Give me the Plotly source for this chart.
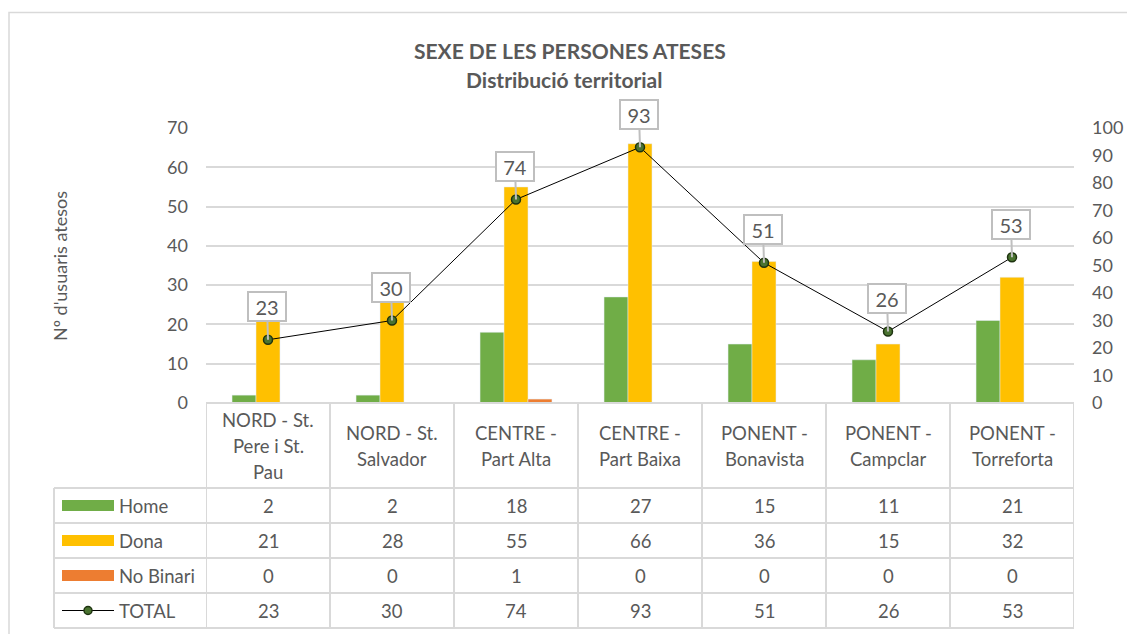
import plotly.graph_objects as go

# ---------------- data ----------------
categories = ["NORD - St. Pere i St. Pau", "NORD - St. Salvador", "CENTRE - Part Alta",
              "CENTRE - Part Baixa", "PONENT - Bonavista", "PONENT - Campclar",
              "PONENT - Torreforta"]
header_lines = [["NORD - St.", "Pere i St.", "Pau"], ["NORD - St.", "Salvador"],
                ["CENTRE -", "Part Alta"], ["CENTRE -", "Part Baixa"],
                ["PONENT -", "Bonavista"], ["PONENT -", "Campclar"],
                ["PONENT -", "Torreforta"]]
home = [2, 2, 18, 27, 15, 11, 21]
dona = [21, 28, 55, 66, 36, 15, 32]
no_binari = [0, 0, 1, 0, 0, 0, 0]
total = [23, 30, 74, 93, 51, 26, 53]
series_names = ["Home", "Dona", "No Binari", "TOTAL"]
title_line1 = "SEXE DE LES PERSONES ATESES"
title_line2 = "Distribució territorial"
y_title = "Nº d'usuaris atesos"

# ---------------- style ----------------
FONT = "Lato"
TXT = "#595959"
GRID = "#d9d9d9"
C_HOME, C_DONA, C_NB = "#70AD47", "#FFC000", "#ED7D31"
W, H = 1135, 634
OFF = 8  # page body offset
L, R, T, B = 206, 1074, 128, 403  # plot area in screenshot px
PW, PH = R - L, B - T
TS = 18.5  # table text size


def px_x(p):
    return (p - L) / PW


def px_y(p):
    return (B - p) / PH


fig = go.Figure()
fig.add_bar(x=categories, y=home, name=series_names[0], marker_color=C_HOME)
fig.add_bar(x=categories, y=dona, name=series_names[1], marker_color=C_DONA)
fig.add_bar(x=categories, y=no_binari, name=series_names[2], marker_color=C_NB)
fig.add_scatter(x=categories, y=total, name=series_names[3], yaxis="y2",
                mode="lines+markers",
                line=dict(color="#000000", width=1),
                marker=dict(size=9, color="#4A7330", line=dict(color="#1E3310", width=1.5)))

annotations = []
shapes = []

# callout data labels for TOTAL
for c, v in zip(categories, total):
    annotations.append(dict(x=c, y=v, xref="x", yref="y2", text=str(v),
                            showarrow=True, arrowhead=0, arrowwidth=2, arrowcolor="#bfbfbf",
                            ax=-1, ay=-33, bgcolor="white", bordercolor="#bfbfbf",
                            borderwidth=2, borderpad=1, width=34, height=25,
                            font=dict(family=FONT, size=20, color=TXT)))

# ---- data table ----
row_tops = [488, 523, 558, 593, 628]
header_center = 445.5
line_gap = 26
for i, lines in enumerate(header_lines):
    n = len(lines)
    for k, ln in enumerate(lines):
        yy = header_center + (k - (n - 1) / 2) * line_gap
        annotations.append(dict(x=i, y=px_y(yy), xref="x", yref="paper", text=ln,
                                showarrow=False, xanchor="center", yanchor="middle",
                                font=dict(family=FONT, size=TS, color=TXT)))

rows = [home, dona, no_binari, total]
for r_i, vals in enumerate(rows):
    yc = (row_tops[r_i] + row_tops[r_i + 1]) / 2
    for i, v in enumerate(vals):
        annotations.append(dict(x=i, y=px_y(yc), xref="x", yref="paper", text=str(v),
                                showarrow=False, xanchor="center", yanchor="middle",
                                font=dict(family=FONT, size=TS, color=TXT)))
    annotations.append(dict(x=px_x(117), y=px_y(yc), xref="paper", yref="paper",
                            text=series_names[r_i], showarrow=False, xanchor="left",
                            yanchor="middle", font=dict(family=FONT, size=TS, color=TXT)))

# legend keys
key_cols = [C_HOME, C_DONA, C_NB]
for r_i, col in enumerate(key_cols):
    yc = (row_tops[r_i] + row_tops[r_i + 1]) / 2
    shapes.append(dict(type="rect", xref="paper", yref="paper", x0=px_x(62), x1=px_x(114),
                       y0=px_y(yc - 5.5), y1=px_y(yc + 5.5), fillcolor=col, line=dict(width=0)))
yc = (row_tops[3] + row_tops[4]) / 2
shapes.append(dict(type="line", xref="paper", yref="paper", x0=px_x(62), x1=px_x(114),
                   y0=px_y(yc), y1=px_y(yc), line=dict(color="#000000", width=1)))
shapes.append(dict(type="circle", xref="paper", yref="paper", x0=px_x(84), x1=px_x(92),
                   y0=px_y(yc - 4), y1=px_y(yc + 4), fillcolor="#4A7330",
                   line=dict(color="#1E3310", width=1.5)))

bl = dict(color=GRID, width=2)
shapes.append(dict(type="line", xref="x", yref="paper", x0=-0.5, x1=6.5, y0=0, y1=0,
                   line=bl, layer="above"))
for yt in row_tops:
    shapes.append(dict(type="line", xref="paper", yref="paper", x0=px_x(54), x1=1,
                       y0=px_y(yt), y1=px_y(yt), line=bl))
for k in range(len(categories) + 1):
    shapes.append(dict(type="line", xref="x", yref="paper", x0=k - 0.5, x1=k - 0.5,
                       y0=0, y1=px_y(row_tops[-1]), line=bl))
shapes.append(dict(type="line", xref="paper", yref="paper", x0=px_x(54), x1=px_x(54),
                   y0=px_y(row_tops[0]), y1=px_y(row_tops[-1]), line=bl))

# outer chart border
shapes.append(dict(type="rect", xref="paper", yref="paper", x0=px_x(9), x1=px_x(1160),
                   y0=px_y(660), y1=px_y(12.5), line=dict(color=GRID, width=1.5)))

# titles
annotations.append(dict(x=px_x(570), y=px_y(51), xref="paper", yref="paper",
                        text=f"<b>{title_line1}</b>", showarrow=False, xanchor="center",
                        yanchor="middle", font=dict(family=FONT, size=21, color=TXT)))
annotations.append(dict(x=px_x(564), y=px_y(79), xref="paper", yref="paper",
                        text=f"<b>{title_line2}</b>", showarrow=False, xanchor="center",
                        yanchor="middle", font=dict(family=FONT, size=21, color=TXT)))
# y-axis title
annotations.append(dict(x=px_x(60), y=px_y(266), xref="paper", yref="paper", text=y_title,
                        textangle=-90, showarrow=False, xanchor="center", yanchor="middle",
                        font=dict(family=FONT, size=18, color=TXT)))

fig.update_layout(
    width=W, height=H, autosize=False,
    margin=dict(l=L - OFF, r=W - (R - OFF), t=T - OFF, b=H - (B - OFF), pad=0),
    paper_bgcolor="white", plot_bgcolor="white",
    showlegend=False,
    barmode="group", bargap=0.42, bargroupgap=0,
    xaxis=dict(categoryorder="array", categoryarray=categories, range=[-0.5, 6.5],
               showticklabels=False, showgrid=False, zeroline=False, showline=False, ticks=""),
    yaxis=dict(range=[0, 70], dtick=10, showgrid=True, gridcolor=GRID, gridwidth=1.5,
               zeroline=False, showline=False, ticks="", ticklabelstandoff=17,
               tickfont=dict(family=FONT, size=18, color=TXT)),
    yaxis2=dict(range=[0, 100], dtick=10, overlaying="y", side="right", showgrid=False,
                zeroline=False, showline=False, ticks="", ticklabelstandoff=17,
                tickfont=dict(family=FONT, size=18, color=TXT)),
    annotations=annotations, shapes=shapes,
)

fig.write_html("out.html")
